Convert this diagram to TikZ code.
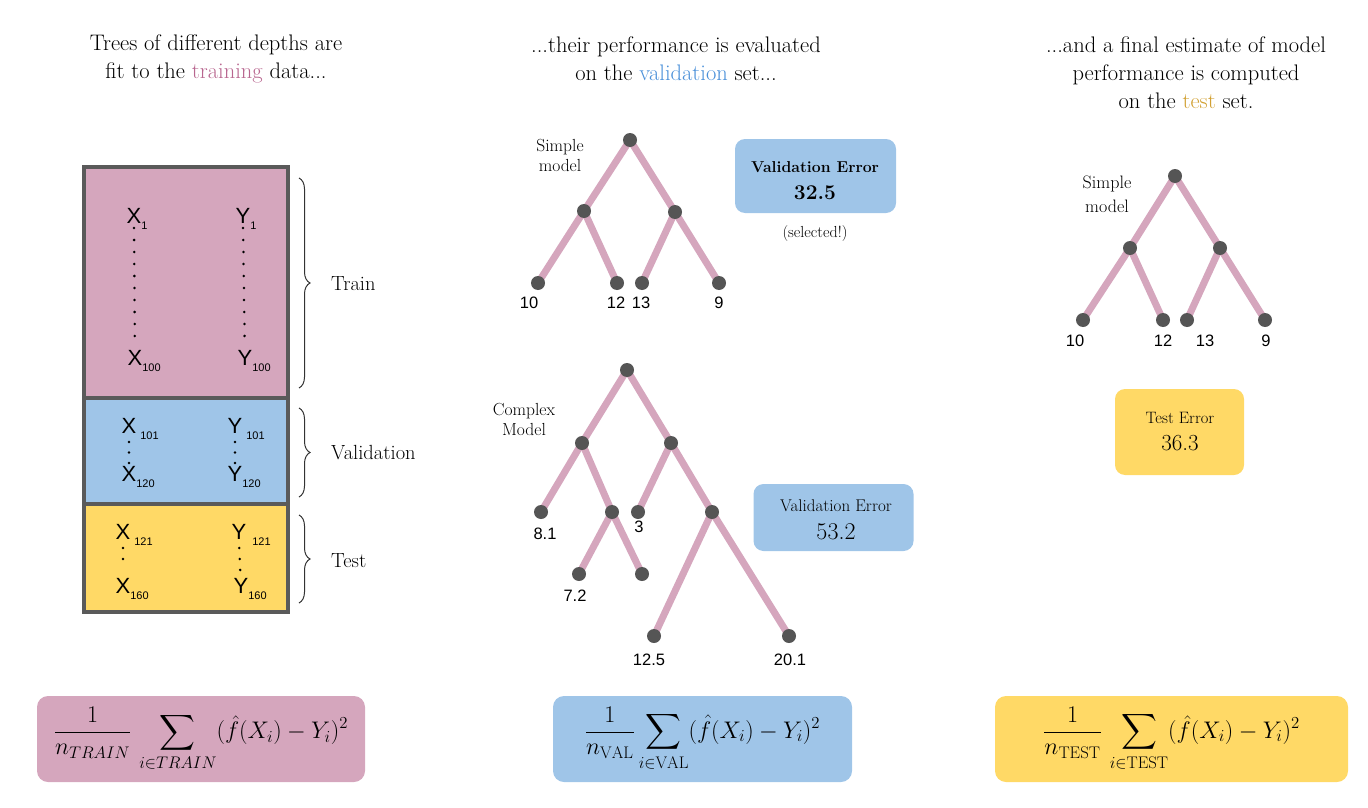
\RequirePackage{fix-cm}
\documentclass[tikz,border=0pt]{standalone}
\usepackage{amsmath}
\usepackage{fontspec}
\newfontfamily\arialfont{Liberation Sans}
\usetikzlibrary{decorations.pathreplacing,backgrounds}
\definecolor{pinkc}{HTML}{D5A6BD}
\definecolor{bluec}{HTML}{9FC5E8}
\definecolor{yellowc}{HTML}{FFD966}
\definecolor{framec}{HTML}{5A5A5A}
\definecolor{dotc}{HTML}{555555}
\definecolor{trainc}{HTML}{B8668F}
\definecolor{valc}{HTML}{4A90D9}
\definecolor{testc}{HTML}{D1A032}
\newcommand\fsz[2]{\fontsize{#1}{#2}\selectfont}
\newcommand\subsc[1]{\rlap{\raisebox{-6pt}{\fontsize{11}{11}\selectfont #1}}}
\begin{document}
\begin{tikzpicture}[x=1pt,y=-1pt,
  tnode/.style={circle,fill=dotc,inner sep=0pt,minimum size=14pt},
  tedge/.style={draw=pinkc,line width=7pt},
  num/.style={font=\arialfont\fsz{16.5}{17},inner sep=0pt},
  xy/.style={font=\arialfont\fsz{22}{22},inner sep=0pt,anchor=base},
  dotline/.style={draw=black,line width=2.8pt,line cap=round,dash pattern=on 0pt off 12pt},
  bracec/.style={decorate,decoration={brace,amplitude=11pt},draw=black!80,line width=1pt},
  side/.style={font=\fsz{20.5}{22},anchor=west,inner sep=0pt},
  title/.style={font=\fsz{22.5}{28},align=center,inner sep=0pt},
  mlabel/.style={font=\fsz{17.5}{20},align=center,inner sep=0pt},
  errbox/.style={rounded corners=10pt,inner sep=0pt,align=center},
  fbox/.style={rounded corners=11pt,inner sep=0pt,font=\fsz{24}{28}}]
\useasboundingbox (0,0) rectangle (1368,808);

% titles
\node[title] (t1) at (216,59) {Trees of different depths are\\fit to the \textcolor{trainc}{training} data...};
\node[title] (t2) at (676,59) {...their performance is evaluated\\on the \textcolor{valc}{validation} set...};
\node[title] (t3) at (1186,73) {...and a final estimate of model\\performance is computed\\on the \textcolor{testc}{test} set.};

% data table
\fill[pinkc] (84,167) rectangle (288,398);
\fill[bluec] (84,398) rectangle (288,504);
\fill[yellowc] (84,504) rectangle (288,612);
\draw[framec,line width=4pt] (84,398) -- (288,398);
\draw[framec,line width=4pt] (84,504) -- (288,504);
\draw[framec,line width=4pt] (84,167) rectangle (288,612);

\node[xy] (x1) at (134,223) {X\subsc{1}};
\node[xy] (y1) at (243,223) {Y\subsc{1}};
\node[xy] (x100) at (135,365) {X\subsc{100}};
\node[xy] (y100) at (245,365) {Y\subsc{100}};
\draw[dotline,shorten <=5pt,shorten >=28pt] (x1.base) -- (x100.base);
\draw[dotline,shorten <=5pt,shorten >=28pt] (y1.base) -- (y100.base);

\node[xy] (x101) at (129,433) {X\subsc{\hspace{4pt}101}};
\node[xy] (y101) at (235,433) {Y\subsc{\hspace{4pt}101}};
\node[xy] (x120) at (129,481) {X\subsc{120}};
\node[xy] (y120) at (235,481) {Y\subsc{120}};
\draw[dotline,dash pattern=on 0pt off 10.5pt,shorten <=9pt,shorten >=17pt] (x101.base) -- (x120.base);
\draw[dotline,dash pattern=on 0pt off 10.5pt,shorten <=9pt,shorten >=17pt] (y101.base) -- (y120.base);

\node[xy] (x121) at (123,539) {X\subsc{\hspace{4pt}121}};
\node[xy] (y121) at (239,539) {Y\subsc{\hspace{6pt}121}};
\node[xy] (x160) at (123,593) {X\subsc{160}};
\node[xy] (y160) at (241,593) {Y\subsc{160}};
\draw[dotline,dash pattern=on 0pt off 11pt,shorten <=9pt,shorten >=23pt] (x121.base) -- (x160.base);
\draw[dotline,dash pattern=on 0pt off 11pt,shorten <=9pt,shorten >=23pt] (y121.base) -- (y160.base);

% braces
\coordinate (b1t) at (299,178);
\coordinate (b1b) at (299,388);
\coordinate (b2t) at (299,408);
\coordinate (b2b) at (299,497);
\coordinate (b3t) at (299,515);
\coordinate (b3b) at (299,603);
\draw[bracec] (b1t) -- (b1b);
\draw[bracec] (b2t) -- (b2b);
\draw[bracec] (b3t) -- (b3b);
\node[side] (ltrain) at (331,284) {Train};
\node[side] (lval) at (331,453) {Validation};
\node[side] (ltest) at (331,561) {Test};

% simple tree (validation)
\node[tnode] (sa) at (630,140) {};
\node[tnode] (sb) at (584,211) {};
\node[tnode] (sc) at (675,212) {};
\node[tnode] (sd) at (538,283) {};
\node[tnode] (se) at (617,283) {};
\node[tnode] (sf) at (642,283) {};
\node[tnode] (sg) at (719,283) {};
\node[num] (sdl) at (529,303) {10};
\node[num] (sel) at (616,303) {12};
\node[num] (sfl) at (641,303) {13};
\node[num] (sgl) at (719,303) {9};
\node[mlabel] (slab) at (560,155) {Simple\\model};
\node[errbox,fill=bluec,minimum width=161pt,minimum height=74pt] (vbox1) at (815.5,176) {};
\node[inner sep=0pt,font=\fsz{15.8}{17}\bfseries] (vbox1a) at (815,167) {Validation Error};
\node[inner sep=0pt,font=\fsz{21}{23}\bfseries] (vbox1b) at (815,193) {32.5};
\node[inner sep=0pt,font=\fsz{16}{18}] (sel1) at (815,234) {(selected!)};

% complex tree
\node[tnode] (ca) at (627,370) {};
\node[tnode] (cb) at (582,443) {};
\node[tnode] (cc) at (671,443) {};
\node[tnode] (cd) at (541,512) {};
\node[tnode] (ce) at (612,512) {};
\node[tnode] (cf) at (638,512) {};
\node[tnode] (cg) at (712,512) {};
\node[tnode] (ch) at (579,574) {};
\node[tnode] (ci) at (642,574) {};
\node[tnode] (cj) at (654,636) {};
\node[tnode] (ck) at (789,636) {};
\node[num] (cdl) at (545,534) {8.1};
\node[num] (cfl) at (639,527) {3};
\node[num] (chl) at (575,596) {7.2};
\node[num] (cjl) at (649,660) {12.5};
\node[num] (ckl) at (790,660) {20.1};
\node[mlabel] (clab) at (524,419) {Complex\\Model};
\node[errbox,fill=bluec,minimum width=160pt,minimum height=67pt] (vbox2) at (833.5,517.5) {};
\node[inner sep=0pt,font=\fsz{17}{19}] (vbox2a) at (836,506) {Validation Error};
\node[inner sep=0pt,font=\fsz{24}{26}] (vbox2b) at (836,532) {53.2};

% simple tree (test)
\node[tnode] (ta) at (1175,176) {};
\node[tnode] (tb) at (1130,248) {};
\node[tnode] (tc) at (1220,248) {};
\node[tnode] (td) at (1083,320) {};
\node[tnode] (te) at (1163,320) {};
\node[tnode] (tf) at (1187,320) {};
\node[tnode] (tg) at (1265,320) {};
\node[num] (tdl) at (1075,341) {10};
\node[num] (tel) at (1163,341) {12};
\node[num] (tfl) at (1205,341) {13};
\node[num] (tgl) at (1266,341) {9};
\node[mlabel,font=\fsz{18}{24}] (tlab) at (1107,194) {Simple\\model};
\node[errbox,fill=yellowc,minimum width=129pt,minimum height=86pt] (tbox) at (1179.5,432) {};
\node[inner sep=0pt,font=\fsz{16.5}{18}] (tboxa) at (1180,418) {Test Error};
\node[inner sep=0pt,font=\fsz{23}{25}] (tboxb) at (1180,443) {36.3};

\begin{scope}[on background layer]
\draw[tedge] (sa.center) -- (sb.center);
\draw[tedge] (sa.center) -- (sc.center);
\draw[tedge] (sb.center) -- (sd.center);
\draw[tedge] (sb.center) -- (se.center);
\draw[tedge] (sc.center) -- (sf.center);
\draw[tedge] (sc.center) -- (sg.center);
\draw[tedge] (ca.center) -- (cb.center);
\draw[tedge] (ca.center) -- (cc.center);
\draw[tedge] (cb.center) -- (cd.center);
\draw[tedge] (cb.center) -- (ce.center);
\draw[tedge] (cc.center) -- (cf.center);
\draw[tedge] (cc.center) -- (cg.center);
\draw[tedge] (ce.center) -- (ch.center);
\draw[tedge] (ce.center) -- (ci.center);
\draw[tedge] (cg.center) -- (cj.center);
\draw[tedge] (cg.center) -- (ck.center);
\draw[tedge] (ta.center) -- (tb.center);
\draw[tedge] (ta.center) -- (tc.center);
\draw[tedge] (tb.center) -- (td.center);
\draw[tedge] (tb.center) -- (te.center);
\draw[tedge] (tc.center) -- (tf.center);
\draw[tedge] (tc.center) -- (tg.center);
\end{scope}

% formula boxes
\node[fbox,fill=pinkc,minimum width=328pt,minimum height=86pt] (f1) at (201,739)
  {$\displaystyle \frac{1}{n_{TRAIN}}\,\sum_{i\in TRAIN}(\hat f(X_i)-Y_i)^2$};
\node[fbox,fill=bluec,minimum width=299pt,minimum height=86pt] (f2) at (702.5,739)
  {$\displaystyle \frac{1}{n_{\mathrm{VAL}}}\sum_{i\in \mathrm{VAL}}(\hat f(X_i)-Y_i)^2$};
\node[fbox,fill=yellowc,minimum width=353pt,minimum height=86pt] (f3) at (1171.5,739)
  {$\displaystyle \frac{1}{n_{\mathrm{TEST}}}\,\sum_{i\in \mathrm{TEST}}(\hat f(X_i)-Y_i)^2$};
\end{tikzpicture}
\end{document}
